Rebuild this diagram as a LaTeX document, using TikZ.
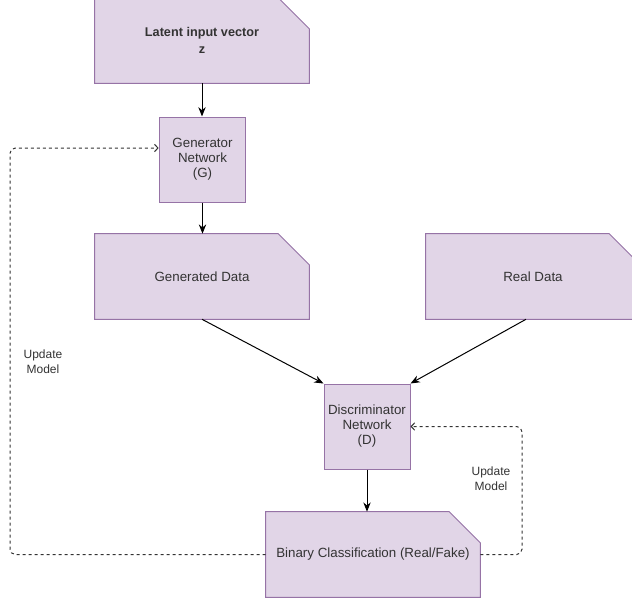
\documentclass[tikz,border=0pt]{standalone}
\usepackage{fontspec}
\setmainfont{Liberation Sans}
\usetikzlibrary{arrows.meta,calc}
\pgfdeclarelayer{background}
\pgfsetlayers{background,main}

\definecolor{boxfill}{HTML}{E1D5E7}
\definecolor{boxline}{HTML}{9673A6}
\definecolor{ink}{HTML}{333333}

\tikzset{
  base/.style={draw=none, fill=none, inner sep=0pt, align=center, text=ink,
    font=\fontsize{10pt}{11.25pt}\selectfont},
  widebox/.style={base, minimum width=160.5pt, minimum height=63.75pt},
  squarebox/.style={base, draw=boxline, fill=boxfill, line width=0.75pt,
    minimum width=65pt, minimum height=63.75pt},
  flow/.style={draw=black, line width=0.75pt, -{Stealth[length=7pt,width=5.5pt]}},
  upd/.style={draw=ink, line width=0.75pt, dash pattern=on 2.25pt off 2.25pt,
    rounded corners=4pt, -{Straight Barb[length=2.6pt,width=5.5pt]}},
  note/.style={text=ink, align=center, inner sep=0pt,
    font=\fontsize{9pt}{11.25pt}\selectfont},
}

% card outline with the top right corner cut off, drawn behind the node text
\newcommand\cardoutline[1]{%
  \begin{pgfonlayer}{background}
    \path[fill=boxfill, draw=boxline, line width=0.75pt]
      (#1.south west) -- (#1.north west)
      -- ([xshift=-23.25pt]#1.north east)
      -- ([yshift=-23.25pt]#1.north east)
      -- (#1.south east) -- cycle;
  \end{pgfonlayer}}

\begin{document}
\begin{tikzpicture}[x=0.75pt, y=-0.75pt]
  \useasboundingbox (0,0) rectangle (632,601);

  % nodes
  \node[widebox, font=\bfseries\fontsize{9.5pt}{12.75pt}\selectfont]
    (latent) at (202,40.5) {Latent input vector\\z};
  \cardoutline{latent}

  \node[squarebox] (gen) at (202.5,159.5) {Generator\\Network\\(G)};

  \node[widebox] (generated) at (202,276.5) {Generated Data};
  \cardoutline{generated}

  \node[widebox] (real) at (533,276.5) {Real Data};
  \cardoutline{real}

  \node[squarebox, minimum width=64.5pt] (disc) at (367,426.5)
    {Discriminator\\Network\\(D)};

  \node[widebox] (binary) at (373,554.5) {Binary Classification (Real/Fake)};
  \cardoutline{binary}

  \node[note] (lblL) at (43,362) {Update\\Model};
  \node[note] (lblR) at (491,479) {Update\\Model};

  % data flow
  \draw[flow] (latent.south) -- (latent.south |- gen.north);
  \draw[flow] (gen.south) -- (gen.south |- generated.north);
  \draw[flow] (generated.south) -- (disc.north west);
  \draw[flow] ([xshift=-5.25pt]real.south) -- (disc.north east);
  \draw[flow] (disc.south) -- (disc.south |- binary.north);

  % feedback loops
  \coordinate (lx) at (10,0);
  \coordinate (rx) at (522,0);
  \coordinate (gin) at ([yshift=8.625pt]gen.west);
  \draw[upd] (binary.west) -- (binary.west -| lx) -- (lx |- gin) -- (gin);
  \draw[upd] (binary.east) -- (binary.east -| rx) -- (rx |- disc.east) -- (disc.east);
\end{tikzpicture}
\end{document}
